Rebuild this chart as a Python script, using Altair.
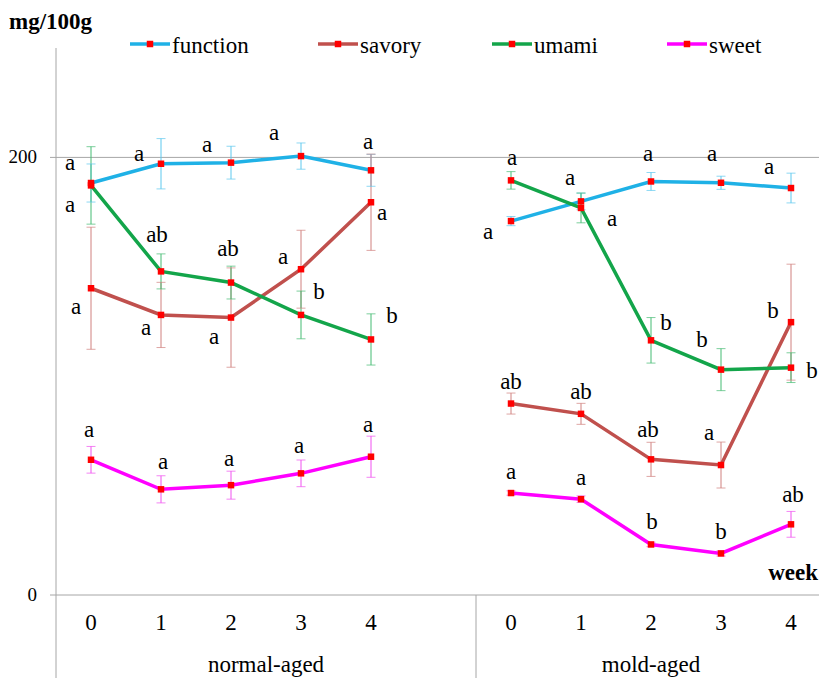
import altair as alt
import pandas as pd

# ---------------- data ----------------
WEEKS = [0, 1, 2, 3, 4]
GROUPS = ["normal-aged", "mold-aged"]
SERIES = ["function", "savory", "umami", "sweet"]
Y_TICKS = [0, 200]

function_normal = [188.3, 197.1, 197.6, 200.6, 194.1]
function_normal_err = [8.7, 11.5, 7.5, 6.0, 7.3]
function_mold = [170.9, 179.9, 189.0, 188.4, 186.0]
function_mold_err = [2.1, 3.8, 4.1, 3.0, 6.8]

savory_normal = [140.2, 128.0, 126.8, 148.9, 179.5]
savory_normal_err = [27.9, 14.9, 22.7, 17.8, 22.0]
savory_mold = [87.5, 82.8, 62.0, 59.4, 124.7]
savory_mold_err = [4.8, 4.8, 7.8, 10.5, 26.5]

umami_normal = [187.2, 147.9, 142.8, 128.0, 116.8]
umami_normal_err = [17.7, 8.0, 7.5, 10.9, 11.7]
umami_mold = [189.5, 176.9, 116.4, 103.0, 103.9]
umami_mold_err = [4.0, 6.8, 10.4, 9.6, 6.8]

sweet_normal = [61.8, 48.3, 50.2, 55.6, 63.2]
sweet_normal_err = [6.1, 6.2, 6.4, 6.1, 9.4]
sweet_mold = [46.6, 43.8, 23.1, 19.0, 32.3]
sweet_mold_err = [1.0, 1.5, 1.0, 1.2, 5.9]

function_normal_letters = ["a", "a", "a", "a", "a"]
function_mold_letters = ["a", "a", "a", "a", "a"]
savory_normal_letters = ["a", "a", "a", "a", "a"]
savory_mold_letters = ["ab", "ab", "ab", "a", "b"]
umami_normal_letters = ["a", "ab", "ab", "b", "b"]
umami_mold_letters = ["a", "a", "b", "b", "b"]
sweet_normal_letters = ["a", "a", "a", "a", "a"]
sweet_mold_letters = ["a", "a", "b", "b", "ab"]

# ---------------- style / placement ----------------
# letter placement relative to its point, in pixels (dx, dy)
LETTER_OFFSETS = {
    ("function", "normal-aged"): [(-21, -20), (-22, -10), (-24, -18), (-27, -23), (-3, -28)],
    ("function", "mold-aged"): [(-23, 11), (-11, -23), (-3, -27), (-9, -29), (-22, -21)],
    ("savory", "normal-aged"): [(-15, 19), (-15, 13), (-17, 19), (-18, -12), (11, 11)],
    ("savory", "mold-aged"): [(0, -22), (0, -22), (-3, -29), (-12, -32), (-18, -11)],
    ("umami", "normal-aged"): [(-21, 20), (-4, -36), (-3, -34), (18, -23), (21, -23)],
    ("umami", "mold-aged"): [(1, -22), (31, 11), (15, -17), (-19, -30), (21, 3)],
    ("sweet", "normal-aged"): [(-2, -30), (2, -27), (-2, -26), (-2, -27), (-3, -32)],
    ("sweet", "mold-aged"): [(0, -21), (0, -21), (1, -22), (0, -21), (2, -29)],
}

LINE_COLORS = {"function": "#1FB1E6", "savory": "#C0504D", "umami": "#13A54A", "sweet": "#FF00FF"}
ERR_COLORS = {"function": "#5CC8EE", "savory": "#D0807E", "umami": "#45BB72", "sweet": "#F050F0"}
MARKER = "#FF0000"
GRAY = "#A6A6A6"
SERIF = "Times New Roman, Liberation Serif, DejaVu Serif, serif"
FS = 23
FS_Y = 19

SLOT = 70            # pixels per category slot
PAD_L, PAD_T, PAD_B = 48, 40, 85
W = 811 - PAD_L      # page content width is 811 px
H = 547
YMAX = 250
GROUP_START = [0, 6]
NSLOTS = 11

VALUES = {
    "function": {"normal-aged": (function_normal, function_normal_err, function_normal_letters),
                 "mold-aged": (function_mold, function_mold_err, function_mold_letters)},
    "savory": {"normal-aged": (savory_normal, savory_normal_err, savory_normal_letters),
               "mold-aged": (savory_mold, savory_mold_err, savory_mold_letters)},
    "umami": {"normal-aged": (umami_normal, umami_normal_err, umami_normal_letters),
              "mold-aged": (umami_mold, umami_mold_err, umami_mold_letters)},
    "sweet": {"normal-aged": (sweet_normal, sweet_normal_err, sweet_normal_letters),
              "mold-aged": (sweet_mold, sweet_mold_err, sweet_mold_letters)},
}

rows = []
for s in SERIES:
    for gi, g in enumerate(GROUPS):
        vals, errs, lets = VALUES[s][g]
        offs = LETTER_OFFSETS[(s, g)]
        for i, w in enumerate(WEEKS):
            x = w + GROUP_START[gi]
            dx, dy = offs[i]
            rows.append(dict(series=s, group=g, week=w, x=x, v=vals[i],
                             lo=vals[i] - errs[i], hi=vals[i] + errs[i],
                             letter=lets[i],
                             lx=x + dx / SLOT, ly=vals[i] - dy * YMAX / H,
                             lcol=LINE_COLORS[s], ecol=ERR_COLORS[s]))
df = pd.DataFrame(rows)

xs = alt.Scale(domain=[-0.5, -0.5 + W / SLOT], nice=False, zero=False)
ys = alt.Scale(domain=[0, YMAX], nice=False, zero=True)

X = alt.X("x:Q", scale=xs, axis=None)
base = alt.Chart(df)

# ---- axes drawn as marks on the chart's scales ----
yline = alt.Chart(pd.DataFrame({"k": [0]})).mark_rule(color=GRAY, strokeWidth=1).encode(
    x=alt.value(0), y=alt.value(0), y2=alt.value(H + 83))
tdf = pd.DataFrame({"t": Y_TICKS, "lab": [str(t) for t in Y_TICKS]})
ygrid = alt.Chart(tdf).mark_rule(color=GRAY, strokeWidth=1).encode(
    y=alt.Y("t:Q", scale=ys, axis=None), x=alt.value(-6), x2=alt.value(W))
ylabels = alt.Chart(tdf).mark_text(font=SERIF, fontSize=FS_Y, align="right",
                                   baseline="middle", color="black").encode(
    y=alt.Y("t:Q", scale=ys, axis=None), x=alt.value(-19), text="lab:N")

xdf = pd.DataFrame([{"x": w + GROUP_START[gi], "lab": str(w)}
                    for gi in range(len(GROUPS)) for w in WEEKS])
xlabels = alt.Chart(xdf).mark_text(font=SERIF, fontSize=FS, align="center",
                                   baseline="middle", color="black").encode(
    x=alt.X("x:Q", scale=xs, axis=None), y=alt.value(H + 28), text="lab:N")

sep = alt.Chart(pd.DataFrame({"b": [GROUP_START[1] - 0.5]})).mark_rule(
    color=GRAY, strokeWidth=1).encode(
    x=alt.X("b:Q", scale=xs, axis=None), y=alt.value(H), y2=alt.value(H + 83))

gdf = pd.DataFrame({"g": GROUPS,
                    "c": [(GROUP_START[0] - 0.5 + GROUP_START[1] - 0.5) / 2,
                          (GROUP_START[1] - 0.5 + NSLOTS - 0.5) / 2]})
glabels = alt.Chart(gdf).mark_text(font=SERIF, fontSize=FS, baseline="middle",
                                   align="center", color="black").encode(
    x=alt.X("c:Q", scale=xs, axis=None), y=alt.value(H + 70), text="g:N")

# ---- data marks ----
err_rule = base.mark_rule(strokeWidth=1).encode(
    x=X, y=alt.Y("lo:Q", scale=ys, axis=None), y2="hi:Q",
    color=alt.Color("ecol:N", scale=None))
cap_hi = base.mark_tick(orient="horizontal", size=9, thickness=1).encode(
    x=X, y=alt.Y("hi:Q", scale=ys, axis=None), color=alt.Color("ecol:N", scale=None))
cap_lo = base.mark_tick(orient="horizontal", size=9, thickness=1).encode(
    x=X, y=alt.Y("lo:Q", scale=ys, axis=None), color=alt.Color("ecol:N", scale=None))

lines = base.mark_line(strokeWidth=3.5).encode(
    x=X, y=alt.Y("v:Q", scale=ys, axis=None),
    color=alt.Color("lcol:N", scale=None),
    detail=["series:N", "group:N"], order="x:Q")

points = base.mark_square(size=42, color=MARKER, opacity=1).encode(
    x=X, y=alt.Y("v:Q", scale=ys, axis=None))

letters = base.mark_text(font=SERIF, fontSize=FS, baseline="middle", align="center",
                         color="black").encode(
    x=alt.X("lx:Q", scale=xs, axis=None), y=alt.Y("ly:Q", scale=ys, axis=None),
    text="letter:N")

# ---- legend ----
LEG_X = [74, 262, 436, 611]
ldf = pd.DataFrame({"series": SERIES, "lx": LEG_X,
                    "lx2": [v + 40 for v in LEG_X], "lm": [v + 20 for v in LEG_X],
                    "tx": [v + 42 for v in LEG_X],
                    "lcol": [LINE_COLORS[s] for s in SERIES]})
leg_line = alt.Chart(ldf).mark_rule(strokeWidth=3.5).encode(
    x=alt.X("lx:Q", scale=None), x2="lx2:Q", y=alt.value(-4),
    color=alt.Color("lcol:N", scale=None))
leg_pt = alt.Chart(ldf).mark_square(size=42, color=MARKER, opacity=1).encode(
    x=alt.X("lm:Q", scale=None), y=alt.value(-4))
leg_txt = alt.Chart(ldf).mark_text(font=SERIF, fontSize=FS, align="left",
                                   baseline="alphabetic", color="black").encode(
    x=alt.X("tx:Q", scale=None), y=alt.value(5), text="series:N")

ytitle = alt.Chart(pd.DataFrame({"t": ["mg/100g"]})).mark_text(
    font=SERIF, fontSize=FS, fontWeight="bold", align="left", baseline="alphabetic",
    color="black").encode(x=alt.value(-47), y=alt.value(-19), text="t:N")
xtitle = alt.Chart(pd.DataFrame({"t": ["week"]})).mark_text(
    font=SERIF, fontSize=FS, fontWeight="bold", align="right", baseline="alphabetic",
    color="black").encode(x=alt.value(W - 1), y=alt.value(532), text="t:N")

chart = alt.layer(
    ygrid, yline, sep, ylabels, xlabels, glabels,
    err_rule, cap_hi, cap_lo, lines, points, letters,
    leg_line, leg_pt, leg_txt, ytitle, xtitle,
).properties(
    width=W, height=H,
    background="white",
    autosize=alt.AutoSizeParams(type="none"),
    padding={"left": PAD_L, "top": PAD_T, "right": 0, "bottom": PAD_B},
).configure_view(stroke=None)

chart.save("out.html", embed_options={"renderer": "svg", "actions": False})
